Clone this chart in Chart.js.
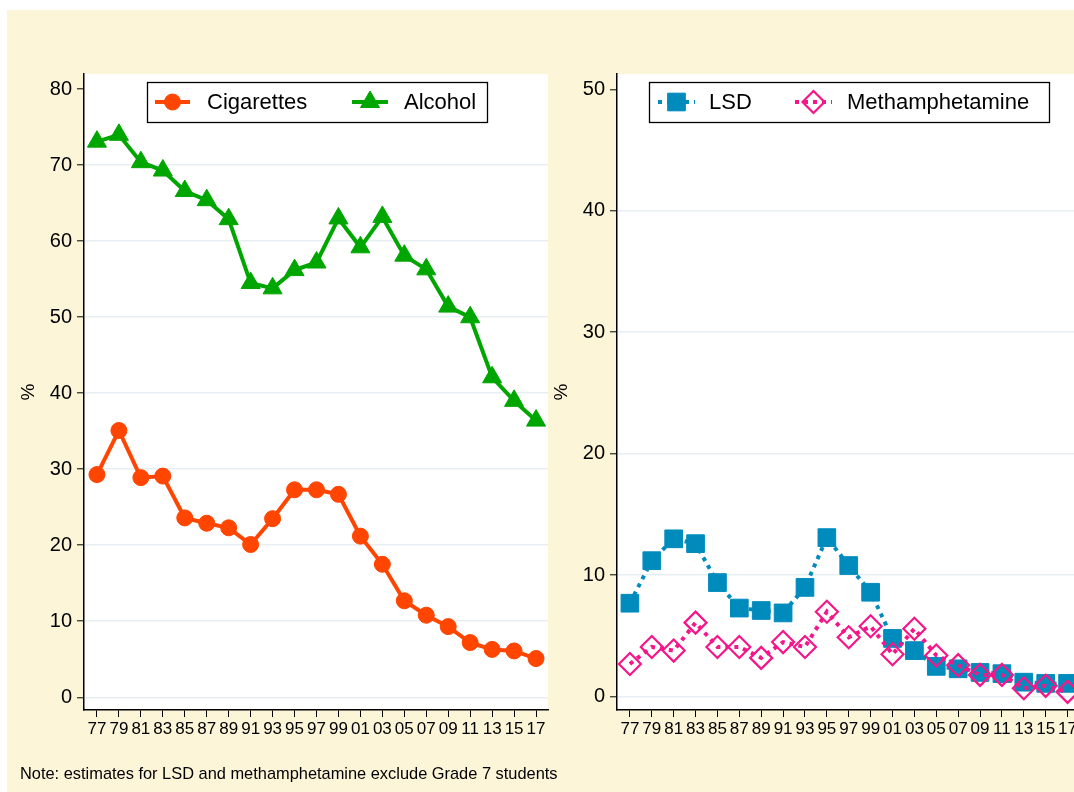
<!DOCTYPE html>
<html>
<head>
<meta charset="utf-8">
<script src="https://cdn.jsdelivr.net/npm/chart.js@4/dist/chart.umd.min.js"></script>
<style>
  html, body { margin:0; padding:0; background:#ffffff; overflow:hidden; }
  #wrap { position:relative; width:1074px; height:792px; overflow:hidden; background:#ffffff; }
  #bg { position:absolute; left:7px; top:10px; width:1067px; height:782px; background:#fdf5d8; }
  canvas { position:absolute; top:0; }
  #c1 { left:0; }
  #c2 { left:533px; }
  #note { position:absolute; left:20px; top:764px; font-family:'Liberation Sans', Arial, sans-serif; font-size:16.4px; color:#000; white-space:nowrap; }
</style>
</head>
<body>
<div id="wrap">
  <div id="bg"></div>
  <canvas id="c1" width="560" height="792"></canvas>
  <canvas id="c2" width="560" height="792"></canvas>
  <div id="note">Note: estimates for LSD and methamphetamine exclude Grade 7 students</div>
</div>
<script>
// ---- data ----
const years = [1977,1979,1981,1983,1985,1987,1989,1991,1993,1995,1997,1999,2001,2003,2005,2007,2009,2011,2013,2015,2017];
const yearLabels = ['77','79','81','83','85','87','89','91','93','95','97','99','01','03','05','07','09','11','13','15','17'];
const cigarettes = [29.3,35.1,28.9,29.1,23.6,22.9,22.3,20.1,23.5,27.3,27.3,26.7,21.2,17.5,12.7,10.8,9.3,7.2,6.3,6.1,5.1];
const alcohol = [73.1,74.0,70.4,69.3,66.6,65.4,62.9,54.5,53.8,56.2,57.2,63.0,59.2,63.2,58.1,56.3,51.4,50.0,42.1,39.0,36.4];
const lsd = [7.7,11.2,13.0,12.6,9.4,7.3,7.1,6.9,9.0,13.1,10.8,8.6,4.8,3.8,2.5,2.3,2.0,1.9,1.2,1.1,1.1];
const meth = [2.7,4.1,3.8,6.1,4.1,4.1,3.2,4.5,4.1,7.0,4.9,5.8,3.5,5.6,3.4,2.6,1.8,1.8,0.7,0.9,0.4];
const leftYTicks = [0,10,20,30,40,50,60,70,80];
const rightYTicks = [0,10,20,30,40,50];

Chart.defaults.font.family = "'Liberation Sans', Arial, Helvetica, sans-serif";
Chart.defaults.color = '#000';

const GRID = '#e8eff2';

const plotBg = {
  id: 'plotBg',
  beforeDraw(c) {
    const {ctx, chartArea: a} = c;
    ctx.save();
    ctx.fillStyle = '#ffffff';
    ctx.fillRect(a.left, a.top, a.right - a.left, a.bottom - a.top);
    ctx.restore();
  }
};

const legendBox = {
  id: 'legendBox',
  afterDatasetsDraw(c, args, o) {
    const ctx = c.ctx;
    const off = o.offset || 0;
    ctx.save();
    ctx.fillStyle = '#ffffff';
    ctx.fillRect(o.x - off, o.y, o.w, o.h);
    ctx.strokeStyle = '#000';
    ctx.lineWidth = 1.3;
    ctx.strokeRect(o.x - off + 0.5, o.y + 0.5, o.w, o.h);
    o.items.forEach(it => {
      const ds = c.data.datasets[it.ds];
      const cy = o.cy;
      ctx.beginPath();
      ctx.setLineDash(ds.borderDash || []);
      ctx.strokeStyle = ds.borderColor;
      ctx.lineWidth = ds.borderWidth;
      ctx.moveTo(it.x0 - off, cy);
      ctx.lineTo(it.x1 - off, cy);
      ctx.stroke();
      ctx.setLineDash([]);
      ctx.fillStyle = ds.pointBackgroundColor;
      ctx.strokeStyle = ds.pointBorderColor;
      ctx.lineWidth = ds.pointBorderWidth;
      Chart.helpers.drawPoint(ctx, {pointStyle: ds.pointStyle, radius: ds.pointRadius, borderWidth: ds.pointBorderWidth, rotation: 0}, (it.x0 + it.x1) / 2 - off, cy);
      ctx.fillStyle = '#000';
      ctx.font = "22px 'Liberation Sans', Arial, sans-serif";
      ctx.textBaseline = 'middle';
      ctx.textAlign = 'left';
      ctx.fillText(ds.label, it.tx - off, cy + 1);
    });
    ctx.restore();
  }
};

function xScale() {
  return {
    type: 'linear',
    min: 1975.82,
    max: 2018.09,
    afterBuildTicks: s => { s.ticks = years.map(v => ({value: v})); },
    afterFit: s => { s.height = 82; },
    ticks: {
      autoSkip: false, maxRotation: 0, minRotation: 0,
      font: {size: 17}, color: '#000', padding: 2,
      callback: (v) => yearLabels[years.indexOf(v)]
    },
    grid: {drawOnChartArea: false, tickLength: 7, tickColor: '#000', tickWidth: 1, color: '#000'},
    border: {color: '#000', width: 1.5}
  };
}

function yScale(min, max, ticks, top) {
  return {
    type: 'linear',
    min: min, max: max,
    afterBuildTicks: s => { s.ticks = ticks.map(v => ({value: v})); },
    afterFit: s => { s.width = 84; },
    ticks: {font: {size: 20}, color: '#000', padding: 5},
    grid: {
      color: ctx => (ctx.tick && ctx.tick.value === top) ? 'rgba(0,0,0,0)' : GRID,
      lineWidth: 1.6, tickLength: 7, tickColor: '#000', tickWidth: 1
    },
    border: {color: '#000', width: 1.5},
    title: {display: true, text: '%', font: {size: 19}, color: '#000', padding: {top: 17, bottom: 0}}
  };
}

function pts(arr) { return arr.map((v, i) => ({x: years[i], y: v})); }

const common = {
  responsive: false,
  animation: false,
  events: [],
  layout: {padding: {left: 0, top: 74, right: 12, bottom: 0}},
  plugins: {legend: {display: false}, tooltip: {enabled: false}}
};

new Chart(document.getElementById('c1'), {
  type: 'line',
  data: {
    datasets: [
      {label: 'Cigarettes', data: pts(cigarettes), borderColor: '#ff4500', backgroundColor: '#ff4500',
       borderWidth: 4, pointStyle: 'circle', pointRadius: 8, pointBackgroundColor: '#ff4500',
       pointBorderColor: '#ff4500', pointBorderWidth: 1, tension: 0, order: 1},
      {label: 'Alcohol', data: pts(alcohol), borderColor: '#00a600', backgroundColor: '#00a600',
       borderWidth: 4, pointStyle: 'triangle', pointRadius: 11, pointBackgroundColor: '#00a600',
       pointBorderColor: '#00a600', pointBorderWidth: 1, tension: 0, order: 0}
    ]
  },
  options: Object.assign({}, common, {
    scales: {x: xScale(), y: yScale(-1.67, 82.0, leftYTicks, 80)},
    plugins: {
      legend: {display: false}, tooltip: {enabled: false},
      legendBox: {x: 147, y: 82, w: 340, h: 40, cy: 102, offset: 0,
        items: [{ds: 0, x0: 155, x1: 190, tx: 207}, {ds: 1, x0: 352, x1: 388, tx: 404}]}
    }
  }),
  plugins: [plotBg, legendBox]
});

new Chart(document.getElementById('c2'), {
  type: 'line',
  data: {
    datasets: [
      {label: 'LSD', data: pts(lsd), borderColor: '#008bbd', backgroundColor: '#008bbd',
       borderWidth: 4, borderDash: [4, 5], pointStyle: 'rect', pointRadius: 12.5,
       pointBackgroundColor: '#008bbd', pointBorderColor: '#008bbd', pointBorderWidth: 1, tension: 0, order: 1},
      {label: 'Methamphetamine', data: pts(meth), borderColor: '#f5168a', backgroundColor: 'rgba(0,0,0,0)',
       borderWidth: 4, borderDash: [4, 5], pointStyle: 'rectRot', pointRadius: 11,
       pointBackgroundColor: 'rgba(0,0,0,0)', pointBorderColor: '#f5168a', pointBorderWidth: 2.2, tension: 0, order: 0}
    ]
  },
  options: Object.assign({}, common, {
    scales: {x: xScale(), y: yScale(-1.09, 51.26, rightYTicks, 50)},
    plugins: {
      legend: {display: false}, tooltip: {enabled: false},
      legendBox: {x: 649, y: 82, w: 400, h: 40, cy: 102, offset: 533,
        items: [{ds: 0, x0: 658, x1: 695, tx: 709}, {ds: 1, x0: 795, x1: 832, tx: 847}]}
    }
  }),
  plugins: [plotBg, legendBox]
});
</script>
</body>
</html>
